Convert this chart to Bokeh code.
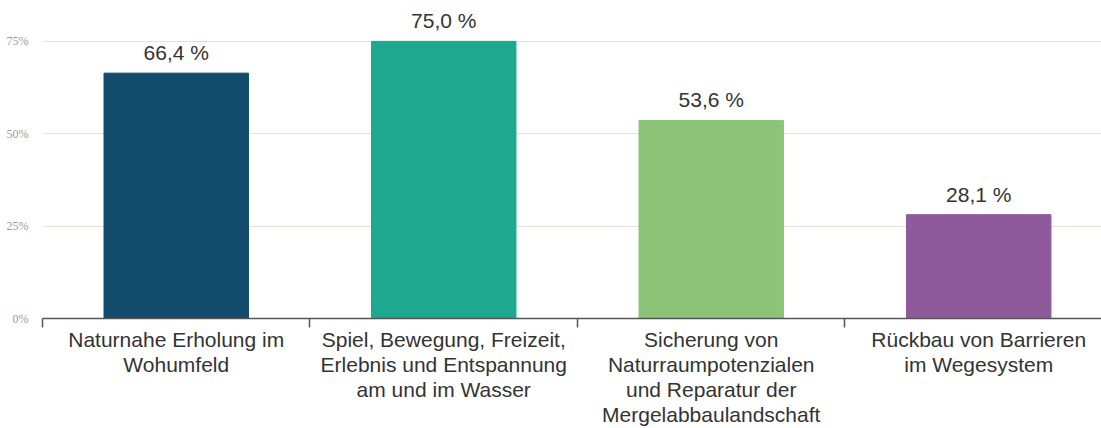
from bokeh.plotting import figure
from bokeh.models import ColumnDataSource, FixedTicker, Range1d
from bokeh.core.properties import value
from bokeh.embed import file_html
from bokeh.resources import INLINE

categories = [
    "Naturnahe Erholung im\nWohumfeld",
    "Spiel, Bewegung, Freizeit,\nErlebnis und Entspannung\nam und im Wasser",
    "Sicherung von\nNaturraumpotenzialen\nund Reparatur der\nMergelabbaulandschaft",
    "Rückbau von Barrieren\nim Wegesystem",
]
values = [66.4, 75.0, 53.6, 28.1]
value_labels = ["66,4 %", "75,0 %", "53,6 %", "28,1 %"]
colors = ["#124a6b", "#1ea88f", "#8dc377", "#8f5a9b"]
y_ticks = [0, 25, 50, 75]
y_tick_labels = ["0%", "25%", "50%", "75%"]

xs = list(range(len(categories)))
src = ColumnDataSource(dict(x=xs, top=values, color=colors, lab=value_labels))

p = figure(width=1101, height=428, output_backend="svg", toolbar_location=None,
           x_range=Range1d(-0.5, 3.459), y_range=Range1d(0, 86.06),
           min_border_left=42, min_border_right=0, min_border_top=0, min_border_bottom=109)
p.outline_line_color = None
p.background_fill_color = "white"

p.vbar(x="x", top="top", width=0.54, color="color", source=src)
p.text(x="x", y="top", text="lab", source=src, text_align="center", text_baseline="bottom",
       y_offset=-9, text_font=value("Liberation Sans"), text_font_size="21px", text_color="#333333")

# y axis
p.yaxis.ticker = FixedTicker(ticks=y_ticks)
p.yaxis.major_label_overrides = {t: l for t, l in zip(y_ticks, y_tick_labels)}
p.yaxis.axis_line_color = None
p.yaxis.major_tick_line_color = None
p.yaxis.major_tick_out = 0
p.yaxis.minor_tick_line_color = None
p.yaxis.major_label_text_font = "Liberation Sans Narrow"
p.yaxis.major_label_text_font_size = "12px"
p.yaxis.major_label_text_color = "#9a9a9a"
p.yaxis.major_label_standoff = 14

p.ygrid.ticker = FixedTicker(ticks=[25, 50, 75])
p.ygrid.grid_line_color = "#e6e0db"
p.ygrid.grid_line_width = 1
p.xgrid.grid_line_color = None

# x axis
p.xaxis.ticker = FixedTicker(ticks=xs, minor_ticks=[-0.5, 0.5, 1.5, 2.5])
p.xaxis.major_label_overrides = {i: c for i, c in zip(xs, categories)}
p.xaxis.axis_line_color = "#555555"
p.xaxis.axis_line_width = 1.5
p.xaxis.major_tick_line_color = None
p.xaxis.major_tick_out = 0
p.xaxis.major_tick_in = 0
p.xaxis.minor_tick_line_color = "#555555"
p.xaxis.minor_tick_line_width = 1.5
p.xaxis.minor_tick_in = 0
p.xaxis.minor_tick_out = 9
p.xaxis.major_label_text_font = "Liberation Sans"
p.xaxis.major_label_text_font_size = "21px"
p.xaxis.major_label_text_color = "#333333"
p.xaxis.major_label_standoff = 0
p.xaxis.major_label_text_line_height = 1.09

open("out.html", "w").write(file_html(p, INLINE))
